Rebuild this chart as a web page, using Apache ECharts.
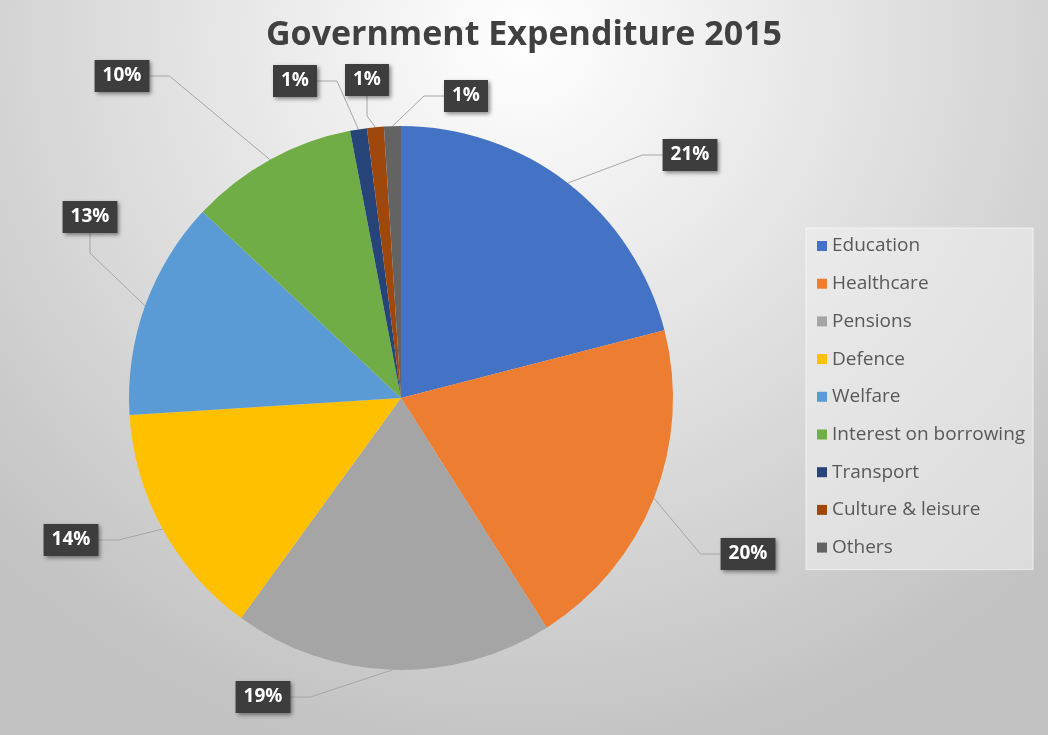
<!DOCTYPE html>
<html>
<head>
<meta charset="utf-8">
<script src="https://cdn.jsdelivr.net/npm/echarts@6/dist/echarts.min.js"></script>
<style>
html,body{margin:0;padding:0;}
#chart{width:1048px;height:735px;}
</style>
</head>
<body>
<div id="chart"></div>
<script>
const categories = ['Education','Healthcare','Pensions','Defence','Welfare','Interest on borrowing','Transport','Culture & leisure','Others'];
const shares = [21,20,19,14,13,10,1,1,1];
const colors = ['#4472C4','#ED7D31','#A5A5A5','#FFC000','#5B9BD5','#70AD47','#264478','#9E480E','#636363'];
const titleText = 'Government Expenditure 2015';

// label box centres (layout/style only, px)
const labelSpots = [[690,155],[748,554],[263,697],[71,540],[90,217],[122,76],[295,81],[367,80],[466,96]];

const chart = echarts.init(document.getElementById('chart'), null, {renderer:'canvas'});
chart.setOption({
  backgroundColor: {
    type:'radial', x:0.5, y:0.05, r:1,
    colorStops:[{offset:0,color:'#ffffff'},{offset:1,color:'#c2c2c2'}]
  },
  title:{
    text:titleText, left:'center', top:13,
    textStyle:{fontFamily:'Open Sans', fontWeight:'bold', fontSize:34, color:'#404040'}
  },
  legend:{
    orient:'vertical', left:806, top:228,
    data:categories,
    icon:'rect', itemWidth:10, itemHeight:10, itemGap:17.7,
    padding:[8,8,12,11],
    backgroundColor:'rgba(240,240,240,0.55)',
    borderColor:'rgba(255,255,255,0.6)', borderWidth:1,
    textStyle:{fontFamily:'Open Sans', fontSize:19, color:'#595959', lineHeight:20}
  },
  series:[{
    type:'pie',
    center:[401,398], radius:272,
    startAngle:90, clockwise:true,
    data:categories.map((c,i)=>({name:c, value:shares[i], itemStyle:{color:colors[i]}})),
    label:{
      show:true, position:'outside',
      formatter:p=>p.value+'%',
      backgroundColor:'#3d3d3d', color:'#ffffff',
      fontFamily:'Open Sans', fontWeight:'bold', fontSize:19,
      padding:[7,8,6,8],
      shadowBlur:4, shadowColor:'rgba(0,0,0,0.45)', shadowOffsetX:2, shadowOffsetY:2
    },
    labelLine:{show:true, length:40, length2:20, lineStyle:{color:'#a6a6a6', width:1}},
    labelLayout:function(p){
      const s = labelSpots[p.dataIndex];
      return {x:s[0], y:s[1], align:'center', verticalAlign:'middle'};
    },
    emphasis:{disabled:true}
  }]
});
</script>
</body>
</html>
